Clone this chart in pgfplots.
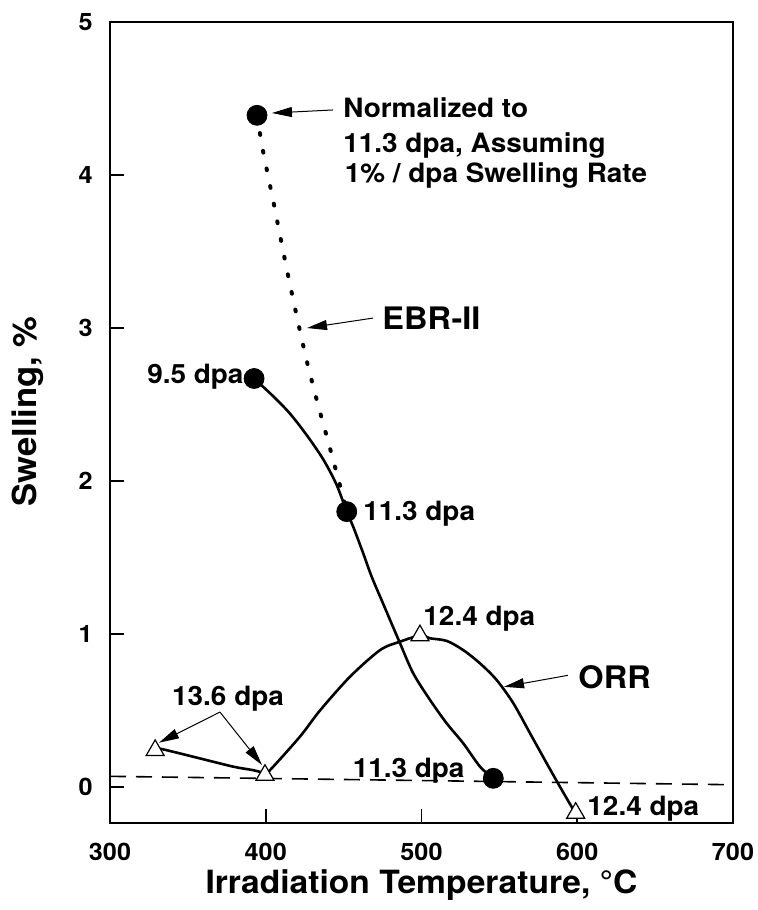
\documentclass[border=0pt]{standalone}
\usepackage{fontspec}
\setmainfont{TeX Gyre Heros}[FakeStretch=1.05]
\usepackage{pgfplots}
\pgfplotsset{compat=1.18}
\usetikzlibrary{arrows.meta}
\newcommand{\fs}[1]{\fontsize{#1}{#1}\selectfont\bfseries}
\tikzset{lbl/.style={inner sep=0pt, font=\fs{13.3}},
  ann/.style={-{Triangle[length=10pt,width=5pt]}, line width=0.5pt}}

\begin{document}
\begin{tikzpicture}
\begin{axis}[
  at={(0,0)}, anchor=south west, scale only axis,
  width=311.5pt, height=400.5pt,
  xmin=300, xmax=700, ymin=-0.235, ymax=5,
  xtick={300,400,500,600,700}, ytick={0,1,2,3,4,5},
  tick align=inside, xtick pos=bottom, ytick pos=left,
  major tick length=7pt,
  tick style={line width=0.8pt, black},
  axis line style={line width=1.1pt},
  /pgf/number format/assume math mode=true,
  /pgf/number format/1000 sep={},
  tick label style={font=\fs{12}},
  xticklabel style={inner sep=0pt, anchor=north, yshift=-10pt},
  yticklabel style={inner sep=0pt, anchor=east, xshift=-8.5pt},
  xlabel={Irradiation Temperature, \textdegree C},
  x label style={font=\fs{16}, at={(axis description cs:0.5,-0.0874)}, anchor=base},
  ylabel={Swelling, \%},
  y label style={font=\fs{16.5}, at={(axis description cs:-0.1172,0.5137)}, anchor=base},
  clip=false,
]
% reference line (slightly tilted in the scan)
\addplot[black, line width=0.8pt, dash pattern=on 8pt off 5pt] coordinates {(300,0.07) (700,0.015)};

% EBR-II normalized (dotted)
\addplot[black, line width=2pt, line cap=round, dash pattern=on 0.9pt off 8.1pt, smooth] coordinates {
(394.4,4.39) (398,4.17) (405,3.82) (412,3.46) (419,3.12) (426,2.80) (433,2.52) (440,2.26) (446,2.035) (452,1.80)};

% EBR-II measured
\addplot[black, line width=1.3pt, smooth] coordinates {
(392.5,2.67) (404.9,2.553) (415.6,2.440) (426.3,2.30) (437,2.14) (445.5,1.975) (452,1.80)
(456.2,1.70) (462.6,1.527) (468,1.375) (475.3,1.20) (486.2,0.94) (494.7,0.743) (505.5,0.569)
(516.2,0.416) (526.8,0.286) (537.6,0.133) (546.1,0.057)};

% ORR
\addplot[black, line width=1.3pt, smooth] coordinates {
(331,0.25) (334.3,0.246) (357.8,0.187) (379.2,0.133) (392,0.11) (399.5,0.09)};
\addplot[black, line width=1.3pt, smooth] coordinates {
(399.5,0.09) (402.7,0.11) (422,0.33) (434.8,0.50) (454,0.72) (473.4,0.895) (486.2,0.95) (499,0.99)
(505.5,0.972) (516.2,0.955) (526.8,0.895) (537.6,0.808) (548.3,0.699) (559,0.547) (569.7,0.351)
(580.4,0.155) (588.9,0.002) (596.4,-0.129) (599,-0.17)};

% markers
\addplot[only marks, mark=*, mark size=5pt, black] coordinates {
(394.4,4.39) (392.5,2.67) (452,1.80) (546.1,0.057)};
\addplot[only marks, mark=triangle*, mark size=5.2pt,
  mark options={fill=white, draw=black, line width=0.6pt}] coordinates {
(329,0.24) (399.5,0.078) (499,0.99) (599,-0.17)};

% annotations
\draw[ann] (axis cs:443.2,4.425) -- (axis cs:404,4.405);
\node[lbl, anchor=base west] at (axis cs:449.6,4.373) {Normalized to};
\node[lbl, anchor=base west] at (axis cs:449.6,4.144) {11.3 dpa, Assuming};
\node[lbl, anchor=base west] at (axis cs:450.5,3.948) {1\% / dpa Swelling Rate};

\draw[ann] (axis cs:468.9,3.065) -- (axis cs:426.5,3.0);
\node[inner sep=0pt, font=\fs{15.5}, anchor=base west] at (axis cs:474.6,2.987) {EBR-II};

\draw[ann] (axis cs:594,0.73) -- (axis cs:553,0.655);
\node[inner sep=0pt, font=\fs{15.5}, anchor=base west] at (axis cs:600.5,0.647) {ORR};

\node[lbl, anchor=base east] at (axis cs:386,2.64) {9.5 dpa};
\node[lbl, anchor=base west] at (axis cs:462.4,1.745) {11.3 dpa};
\node[lbl, anchor=base east] at (axis cs:527.9,0.065) {11.3 dpa};
\node[lbl, anchor=base west] at (axis cs:501,1.059) {12.4 dpa};
\node[lbl, anchor=base west] at (axis cs:606.3,-0.183) {12.4 dpa};

\node[lbl, anchor=base] at (axis cs:375.8,0.536) {13.6 dpa};
\draw[ann] (axis cs:370.6,0.49) -- (axis cs:331.5,0.29);
\draw[ann] (axis cs:370.6,0.49) -- (axis cs:397.6,0.144);
\end{axis}
\pgfresetboundingbox
\useasboundingbox (-55pt,-43.5pt) rectangle (323.5pt,411.5pt);
\end{tikzpicture}
\end{document}
